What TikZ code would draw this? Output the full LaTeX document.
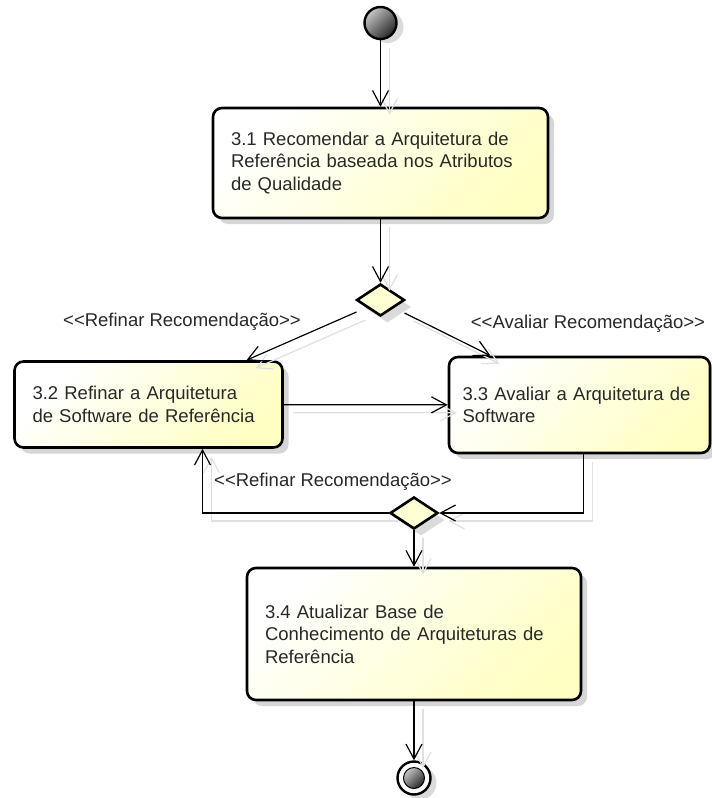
\documentclass[tikz,border=0pt]{standalone}
\usepackage{fontspec}
\setmainfont{Liberation Sans}
\usetikzlibrary{arrows.meta,shapes.geometric,shadows,calc}
\definecolor{boxyel}{RGB}{255,255,196}
\definecolor{dmdyel}{RGB}{255,255,212}
\definecolor{shgray}{RGB}{224,224,224}
\definecolor{txt}{RGB}{40,40,40}
% guard against the << >> ligature of the text mapping
\newcommand{\stereo}[1]{<\kern0pt<#1>\kern0pt>}
% all control flows, drawn once as shadow and once for real
\newcommand{\drawflows}[1]{%
  \draw[->,#1] (s) -- (b1);
  \draw[->,#1] (b1) -- (d1);
  \draw[->,#1] (d1l) -- (b2in);
  \draw[->,#1] (d1r) -- (b3in);
  \draw[->,#1] (b2) -- (b3);
  \draw[->,#1] (b3out) |- (d2.east);
  \draw[->,#1] (d2.west) -| (b2back);
  \draw[->,#1] (d2) -- (b4);
  \draw[->,#1] (b4) -- (e);
}
\begin{document}
\begin{tikzpicture}[x=1pt,y=-1pt,
  font=\fontsize{18.5}{22.5}\selectfont,
  >={Straight Barb[length=15pt,width=16pt]},
  flow/.style={line width=1.2pt, black},
  flowshadow/.style={line width=1.2pt, shgray},
  actbox/.style={draw, line width=2.6pt, rounded corners=9pt, align=left,
    inner xsep=18pt, inner ysep=0pt, text=txt,
    top color=white, bottom color=boxyel, shading angle=45,
    drop shadow={shadow xshift=6pt, shadow yshift=-6pt, fill=black!16, opacity=1}},
  decision/.style={diamond, draw, line width=2.6pt, fill=dmdyel, inner sep=0pt,
    minimum width=48pt, minimum height=32pt,
    drop shadow={shadow xshift=7pt, shadow yshift=-7pt, fill=black!14, opacity=1}},
  guard/.style={text=txt, inner sep=0pt}]

\useasboundingbox (0,0) rectangle (712,798);

% initial node
\node[circle, draw, line width=2.4pt, minimum size=32pt, inner sep=0pt,
      top color=gray!45, bottom color=black!85, shading angle=45,
      drop shadow={shadow xshift=7pt, shadow yshift=-4pt, fill=black!14, opacity=1}]
      (s) at (380.5,23) {};

% actions
\node[actbox, text width=299pt, minimum height=110pt] (b1) at (380.5,163)
  {3.1 Recomendar a Arquitetura de\\Referência baseada nos Atributos\\de Qualidade};
\node[actbox, text width=232pt, minimum height=86pt] (b2) at (148.5,404.5)
  {3.2 Refinar a Arquitetura\\de Software de Referência};
\node[actbox, text width=234pt, inner xsep=13.5pt, minimum height=96pt] (b3) at (579.5,405)
  {3.3 Avaliar a Arquitetura de\\Software};
\node[actbox, text width=298pt, minimum height=132pt] (b4) at (414,634)
  {3.4 Atualizar Base de\\Conhecimento de Arquiteturas de\\Referência};

% decisions
\node[decision] (d1) at (380.5,300) {};
\node[decision] (d2) at (414,513) {};

% final node
\node[circle, draw, line width=2.4pt, minimum size=33pt, inner sep=0pt, fill=white,
      drop shadow={shadow xshift=6pt, shadow yshift=-5pt, fill=black!14, opacity=1}]
      (e) at (414,778) {};
\node[circle, draw, line width=1pt, minimum size=21pt, inner sep=0pt,
      top color=gray!45, bottom color=black!85, shading angle=45] (ei) at (e) {};

% guards
\node[guard] (g1) at (182,322) {\stereo{Refinar Recomendação}};
\node[guard] (g2) at (588,324) {\stereo{Avaliar Recomendação}};
\node[guard] (g3) at (333,482) {\stereo{Refinar Recomendação}};

% flow end points
\coordinate (d1l) at ([shift={(-24,12)}]d1.center);
\coordinate (d1r) at ([shift={(24,13)}]d1.center);
\coordinate (b2in) at ([xshift=98pt]b2.north);
\coordinate (b3in) at ([xshift=-89pt]b3.north);
\coordinate (b3out) at ([xshift=4pt]b3.south);
\coordinate (b2back) at ([xshift=54pt]b2.south);

% flows
\begin{scope}[transform canvas={shift={(9pt,-8pt)}}]
  \drawflows{flowshadow}
\end{scope}
\drawflows{flow}
\end{tikzpicture}
\end{document}
